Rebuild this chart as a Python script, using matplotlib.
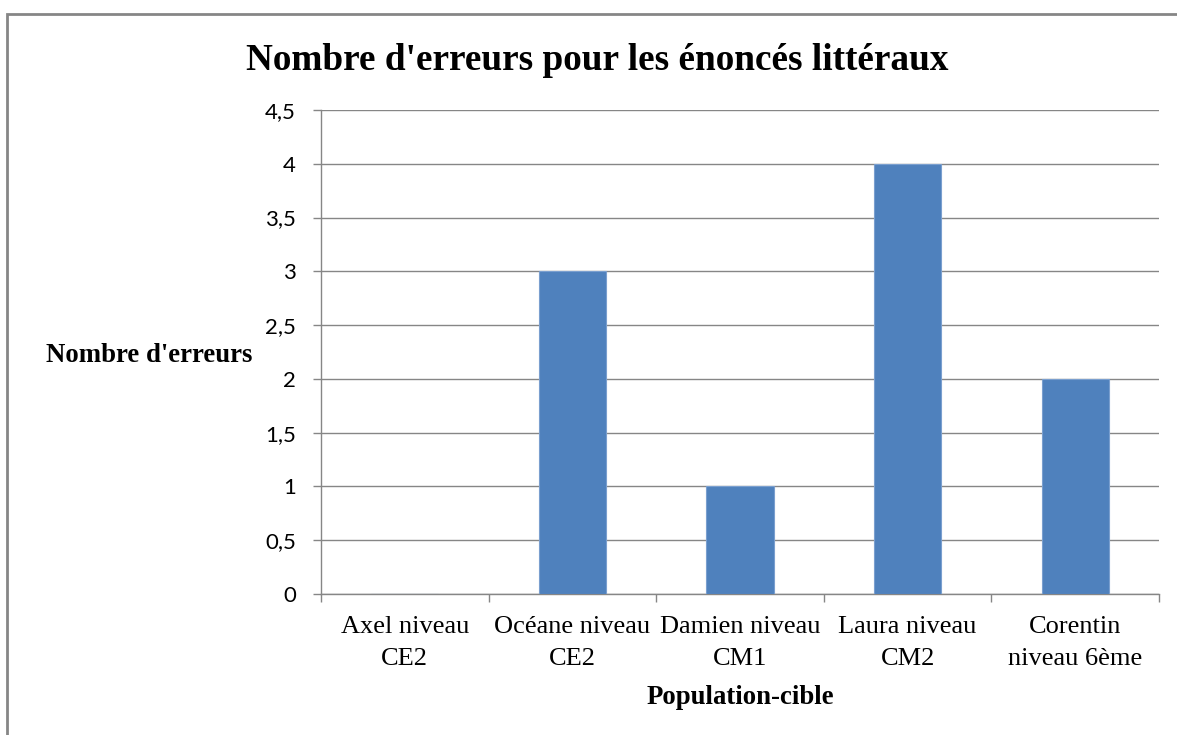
import matplotlib.pyplot as plt
from matplotlib.patches import Rectangle
from matplotlib.ticker import FuncFormatter

categories = ["Axel niveau\nCE2", "Océane niveau\nCE2", "Damien niveau\nCM1",
              "Laura niveau\nCM2", "Corentin\nniveau 6ème"]
erreurs = [0, 3, 1, 4, 2]
yticks = [0, 0.5, 1, 1.5, 2, 2.5, 3, 3.5, 4, 4.5]

W, H = 1177, 735
fig = plt.figure(figsize=(W / 100, H / 100), dpi=100)
ax = fig.add_axes([321 / W, 1 - 594 / H, (1159 - 321) / W, (594 - 110) / H])

grey = '#868686'
x = list(range(len(categories)))
ax.bar(x, erreurs, width=0.4, color='#4F81BD', edgecolor='#7A9FCF', linewidth=0.8, zorder=3)

ax.set_xlim(-0.5, len(categories) - 0.5)
ax.set_ylim(0, 4.5)
ax.set_yticks(yticks)
ax.yaxis.set_major_formatter(FuncFormatter(lambda v, p: f"{v:g}".replace('.', ',')))
ax.grid(axis='y', color=grey, linewidth=1.0, zorder=0)

ax.set_xticks(x)
ax.set_xticklabels(categories)
ax.set_xticks([i - 0.5 for i in range(len(categories) + 1)], minor=True)
ax.tick_params(axis='x', which='major', length=0, pad=16)
ax.tick_params(axis='x', which='minor', length=6, color=grey, width=1.0)
ax.tick_params(axis='y', length=6, color=grey, width=1.0, pad=12)
for lbl in ax.get_xticklabels():
    lbl.set_family('Liberation Serif')
    lbl.set_fontsize(19)
    lbl.set_linespacing(1.55)
for lbl in ax.get_yticklabels():
    lbl.set_family('Lato')
    lbl.set_fontsize(16)

for s in ['top', 'right']:
    ax.spines[s].set_visible(False)
for s in ['left', 'bottom']:
    ax.spines[s].set_color(grey)
    ax.spines[s].set_linewidth(1.0)

fig.text(597 / W, 1 - 60 / H, "Nombre d'erreurs pour les énoncés littéraux",
         family='Liberation Serif', fontweight='bold', fontsize=26.8, ha='center', va='center')
fig.text(252 / W, 1 - 356 / H, "Nombre d'erreurs", family='Liberation Serif',
         fontweight='bold', fontsize=19.3, ha='right', va='center')
fig.text(740 / W, 1 - 697 / H, "Population-cible", family='Liberation Serif',
         fontweight='bold', fontsize=19.3, ha='center', va='center')

# outer chart frame (cropped on right and bottom)
fig.patches.append(Rectangle((6.5 / W, -0.05), 1.2, 1 - 13.5 / H + 0.05,
                             transform=fig.transFigure, fill=False,
                             edgecolor=grey, linewidth=2.0))

fig.savefig('out.png', dpi=100)
